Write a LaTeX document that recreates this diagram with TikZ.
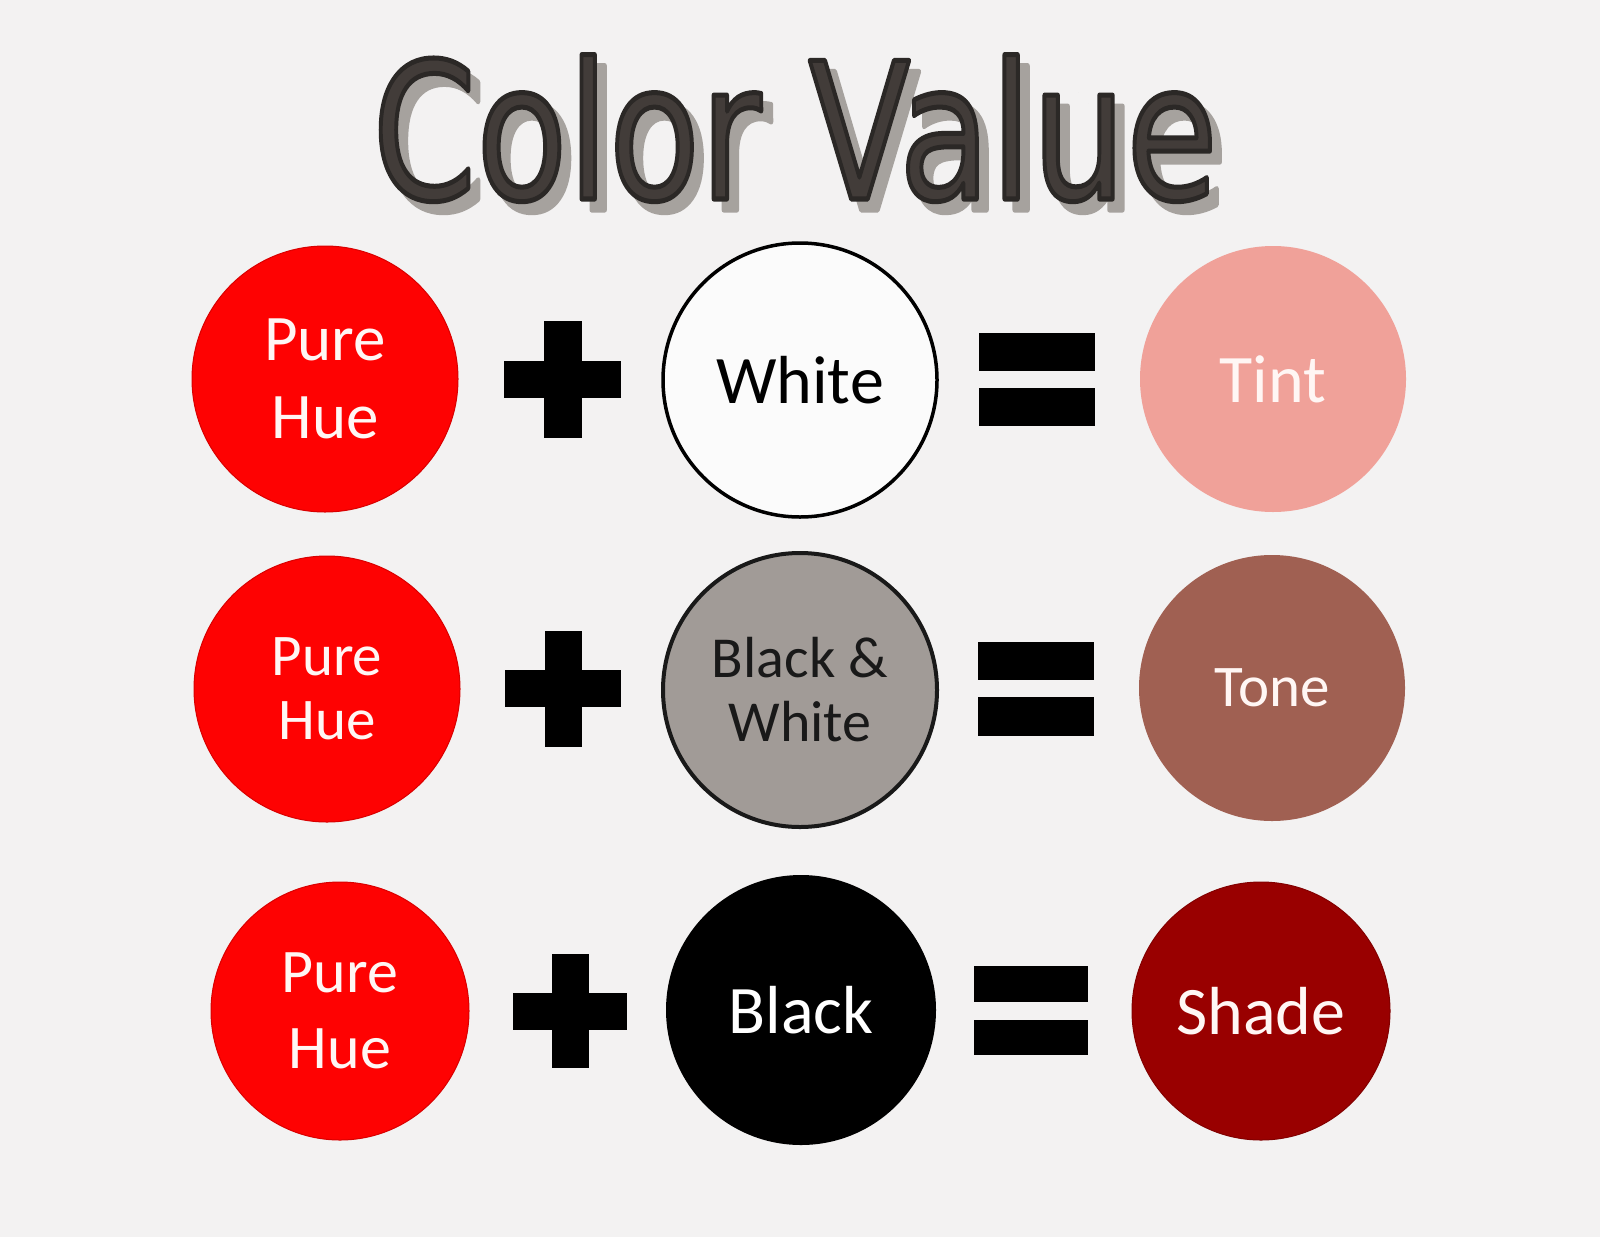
\documentclass[tikz,border=0pt]{standalone}
\usepackage{fontspec}
\usepackage{graphicx}
\newfontfamily\carl{Carlito}
\newfontfamily\titlefont{DejaVu Sans}
\definecolor{bg}{RGB}{243,242,242}
\definecolor{purered}{RGB}{254,2,2}
\definecolor{tintc}{RGB}{240,161,153}
\definecolor{tonec}{RGB}{160,96,82}
\definecolor{shadec}{RGB}{153,0,0}
\definecolor{bwgrey}{RGB}{161,155,151}
\definecolor{titlec}{RGB}{66,60,57}
\definecolor{shadowc}{RGB}{166,162,158}
\definecolor{lighttext}{RGB}{255,246,244}
\begin{document}
\begin{tikzpicture}[x=1pt,y=-1pt,
  disc/.style={circle,inner sep=0pt,align=center,font=\carl},
  huedisc/.style={disc,fill=purered,draw=red!85!black,line width=1pt,text=lighttext},
  signbar/.style={fill=black},
  titletext/.style={anchor=base,inner sep=0pt,font=\titlefont\fontsize{190}{200}\selectfont}]
\useasboundingbox (0,0) rectangle (1600,1237);
\fill[bg] (0,0) rectangle (1600,1237);

% title
\node[titletext,text=shadowc] (titleshadow) at (805,210) {\scalebox{0.784}[1]{\special{pdf:code 2 Tr 0.651 0.635 0.62 RG 5 w 1 j}Color Value\special{pdf:code 0 Tr}}};
\node[titletext,text=titlec] (title) at (795,199) {\scalebox{0.784}[1]{\special{pdf:code 2 Tr 0.17 0.155 0.15 RG 5 w 1 j}Color Value\special{pdf:code 0 Tr}}};

% row 1
\node[huedisc,minimum size=266pt,font=\carl\fontsize{65}{78}\selectfont] (hue1) at (325,379) {Pure\\Hue};
\fill[signbar] (504,361) rectangle (621,398);
\fill[signbar] (544,321) rectangle (582,438);
\coordinate (plus1) at (562.5,379.5);
\node[disc,minimum size=274pt,fill=white!70!bg,draw=black,line width=3.5pt,font=\carl\fontsize{68}{80}\selectfont] (white1) at (800,380) {White};
\fill[signbar] (979,333) rectangle (1095,371);
\fill[signbar] (979,388) rectangle (1095,426);
\coordinate (eq1) at (1037,379.5);
\node[disc,minimum size=266pt,fill=tintc,text=lighttext,font=\carl\fontsize{68}{80}\selectfont] (tint) at (1273,379) {Tint};

% row 2
\node[huedisc,minimum size=266pt,font=\carl\fontsize{59}{64}\selectfont] (hue2) at (327,689) {Pure\\Hue};
\fill[signbar] (505,670) rectangle (621,707);
\fill[signbar] (545,631) rectangle (582,747);
\coordinate (plus2) at (563,689);
\node[disc,minimum size=274pt,fill=bwgrey,draw=black!90,line width=4pt,text=black!90,font=\carl\fontsize{58}{64}\selectfont] (bw) at (800,690) {Black \&\\White};
\fill[signbar] (978,642) rectangle (1094,680);
\fill[signbar] (978,697) rectangle (1094,736);
\coordinate (eq2) at (1036,689);
\node[disc,minimum size=266pt,fill=tonec,text=lighttext,font=\carl\fontsize{59}{70}\selectfont] (tone) at (1272,688) {Tone};

% row 3
\node[huedisc,minimum size=258pt,font=\carl\fontsize{62}{76}\selectfont] (hue3) at (340,1011) {Pure\\Hue};
\fill[signbar] (513,993) rectangle (627,1030);
\fill[signbar] (552,954) rectangle (589,1068);
\coordinate (plus3) at (570,1011);
\node[disc,minimum size=270pt,fill=black,text=white,font=\carl\fontsize{68}{80}\selectfont] (black3) at (801,1010) {Black};
\fill[signbar] (974,966) rectangle (1088,1002);
\fill[signbar] (974,1020) rectangle (1088,1055);
\coordinate (eq3) at (1031,1010);
\node[disc,minimum size=258pt,fill=shadec,draw=shadec!85!black,line width=1pt,text=lighttext,font=\carl\fontsize{68}{80}\selectfont] (shade) at (1261,1011) {Shade};
\end{tikzpicture}
\end{document}
